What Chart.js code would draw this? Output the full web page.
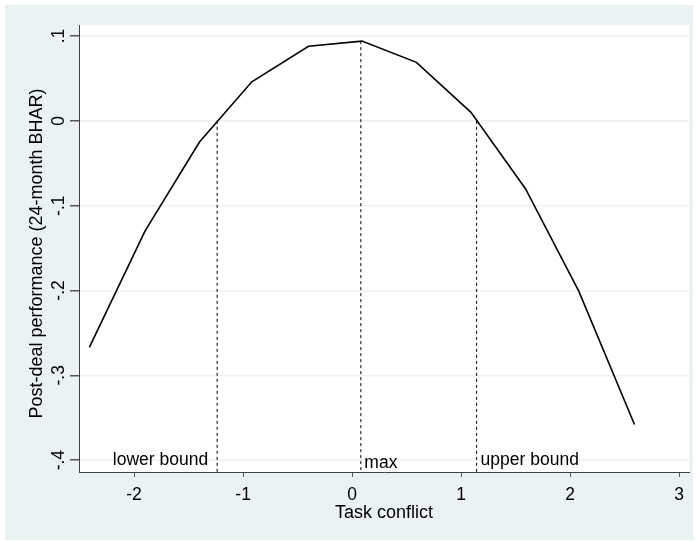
<!DOCTYPE html>
<html>
<head>
<meta charset="utf-8">
<script src="https://cdn.jsdelivr.net/npm/chart.js@4"></script>
<style>
  html, body { margin: 0; padding: 0; background: #ffffff; }
  #wrap { width: 697px; height: 541px; }
</style>
</head>
<body>
<div id="wrap"><canvas id="fitChart" width="697" height="541"></canvas></div>
<script>
// Fitted curve
const conflictX = [-2.41, -1.90, -1.40, -0.92, -0.40, 0.09, 0.59, 1.09, 1.59, 2.08, 2.59];
const bharY = [-0.267, -0.130, -0.025, 0.046, 0.088, 0.094, 0.069, 0.010, -0.080, -0.201, -0.358];

// Reference lines
const markLabels = ['lower bound', 'max', 'upper bound'];
const markX = [-1.238, 0.08, 1.142];
const markTop = [0, 0.094, 0];

// Axes
const xTicks = [-2, -1, 0, 1, 2, 3];
const yTicks = [-0.4, -0.3, -0.2, -0.1, 0, 0.1];
const yTickLabels = ['-.4', '-.3', '-.2', '-.1', '0', '.1'];
const xRange = [-2.505, 3.09];
const yRange = [-0.414, 0.113];

const FONT = '"Liberation Sans", Arial, sans-serif';
const BG = '#eaf2f3';

const curveData = conflictX.map((x, i) => ({ x: x, y: bharY[i] }));

const markSets = markX.map((x, i) => ({
    label: markLabels[i],
    data: [{ x: x, y: markTop[i] }, { x: x, y: yRange[0] }],
    borderColor: '#000000',
    borderWidth: 1,
    borderDash: [3, 3],
    pointRadius: 0,
    showLine: true,
    fill: false
}));

// Stata-like background and text
const stataLook = {
    id: 'stataLook',
    beforeDraw(chart) {
        const { ctx, chartArea } = chart;
        ctx.save();
        ctx.fillStyle = '#ffffff';
        ctx.fillRect(0, 0, chart.width, chart.height);
        ctx.fillStyle = BG;
        ctx.fillRect(5, 5, 688, 535);
        ctx.fillStyle = '#ffffff';
        ctx.fillRect(chartArea.left, chartArea.top, chartArea.right - chartArea.left, chartArea.bottom - chartArea.top);
        ctx.restore();
    },
    afterDraw(chart) {
        const { ctx, chartArea } = chart;
        const xs = chart.scales.x;
        const ys = chart.scales.y;
        ctx.save();
        ctx.fillStyle = '#000000';

        // x tick labels
        ctx.font = '17.5px ' + FONT;
        ctx.textAlign = 'center';
        ctx.textBaseline = 'alphabetic';
        xTicks.forEach(v => {
            ctx.fillText(String(v), xs.getPixelForValue(v), 499.5);
        });

        // x title
        ctx.font = '18px ' + FONT;
        ctx.fillText('Task conflict', (chartArea.left + chartArea.right) / 2, 517.5);

        // y tick labels (rotated)
        ctx.font = '17.5px ' + FONT;
        yTicks.forEach((v, i) => {
            ctx.save();
            ctx.translate(63.5, ys.getPixelForValue(v));
            ctx.rotate(-Math.PI / 2);
            ctx.textAlign = 'center';
            ctx.fillText(yTickLabels[i], 0, 0);
            ctx.restore();
        });

        // y title
        ctx.save();
        ctx.font = '18px ' + FONT;
        ctx.translate(42, (chartArea.top + chartArea.bottom) / 2 + 5);
        ctx.rotate(-Math.PI / 2);
        ctx.textAlign = 'center';
        ctx.fillText('Post-deal performance (24-month BHAR)', 0, 0);
        ctx.restore();

        // reference line labels
        ctx.font = '17.5px ' + FONT;
        ctx.textAlign = 'right';
        ctx.fillText(markLabels[0], xs.getPixelForValue(markX[0]) - 9, 465);
        ctx.textAlign = 'left';
        ctx.fillText(markLabels[1], xs.getPixelForValue(markX[1]) + 3.5, 468);
        ctx.fillText(markLabels[2], xs.getPixelForValue(markX[2]) + 4, 465);
        ctx.restore();
    }
};

new Chart(document.getElementById('fitChart'), {
    type: 'scatter',
    data: {
        datasets: [{
            label: 'Fitted',
            data: curveData,
            borderColor: '#000000',
            borderWidth: 1.6,
            pointRadius: 0,
            showLine: true,
            fill: false,
            tension: 0
        }].concat(markSets)
    },
    options: {
        responsive: false,
        animation: false,
        events: [],
        layout: { padding: { left: 0, top: 25, right: 8, bottom: 0 } },
        plugins: {
            legend: { display: false },
            tooltip: { enabled: false }
        },
        scales: {
            x: {
                type: 'linear',
                min: xRange[0],
                max: xRange[1],
                afterBuildTicks: scale => { scale.ticks = xTicks.map(v => ({ value: v })); },
                afterFit: scale => { scale.height = 69; },
                ticks: { display: false },
                grid: {
                    drawOnChartArea: false,
                    drawTicks: true,
                    tickLength: 5,
                    tickColor: '#555555'
                },
                border: { color: '#404040', width: 1 }
            },
            y: {
                type: 'linear',
                min: yRange[0],
                max: yRange[1],
                afterBuildTicks: scale => { scale.ticks = yTicks.map(v => ({ value: v })); },
                afterFit: scale => { scale.width = 79; },
                ticks: { display: false },
                grid: {
                    color: BG,
                    lineWidth: 1.5,
                    drawTicks: true,
                    tickLength: 9,
                    tickColor: '#555555'
                },
                border: { color: '#404040', width: 1 }
            }
        }
    },
    plugins: [stataLook]
});
</script>
</body>
</html>
